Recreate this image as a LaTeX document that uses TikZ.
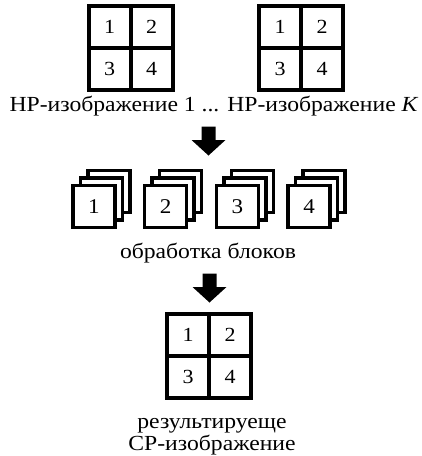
\documentclass[tikz,border=0pt]{standalone}
\usepackage{fontspec}
\setmainfont{Liberation Serif}
\newfontfamily\widefont[FakeStretch=1.1]{Liberation Serif}
\newcommand{\quadgrid}[3]{%
  \node[cell] (#1-1) at (#2-21,#3+21) {1};
  \node[cell] (#1-2) at (#2+21,#3+21) {2};
  \node[cell] (#1-3) at (#2-21,#3-21) {3};
  \node[cell] (#1-4) at (#2+21,#3-21) {4};}
\newcommand{\blkstack}[4]{%
  \node[blk] (#1-c) at (#2+15,#3+15) {};
  \node[blk] (#1-b) at (#2+7.5,#3+7.5) {};
  \node[blk] (#1-a) at (#2,#3) {#4};}
\newcommand{\blockarrowdown}[2]{%
  \fill[bigarrow] (#1-7,#2) -- (#1+7,#2) -- (#1+7,#2-13.5) -- (#1+17,#2-13.5)
    -- (#1,#2-29) -- (#1-17,#2-13.5) -- (#1-7,#2-13.5) -- cycle;}
\begin{document}
\begin{tikzpicture}[x=1pt,y=1pt,
  cell/.style={draw, line width=4pt, minimum size=42pt, inner sep=0pt, font=\widefont\fontsize{20}{24}\selectfont},
  blk/.style={draw, fill=white, line width=3.5pt, minimum size=42pt, inner sep=0pt, font=\widefont\fontsize{21}{24}\selectfont},
  lbl/.style={font=\widefont\fontsize{21.5}{26}\selectfont, inner sep=0pt, anchor=base},
  bigarrow/.style={fill=black}]
\useasboundingbox (0,0) rectangle (422,-456);
% top input grids
\quadgrid{ga}{130.5}{-48}
\quadgrid{gb}{301}{-48}
\node[lbl] (top) at (213.5,-111) {НР-изображение 1 ... НР-изображение {\itshape K}};
% arrow 1
\blockarrowdown{208.5}{-126.5}
% block stacks
\blkstack{s1}{94}{-206.5}{1}
\blkstack{s2}{165.7}{-206.5}{2}
\blkstack{s3}{237.4}{-206.5}{3}
\blkstack{s4}{309.1}{-206.5}{4}
\node[lbl] (proc) at (208,-258) {обработка блоков};
% arrow 2
\blockarrowdown{209.5}{-273.5}
% result grid
\quadgrid{gr}{209}{-356}
\node[lbl] (res1) at (212,-428) {результируеще};
\node[lbl] (res2) at (212,-450) {СР-изображение};
\end{tikzpicture}
\end{document}
